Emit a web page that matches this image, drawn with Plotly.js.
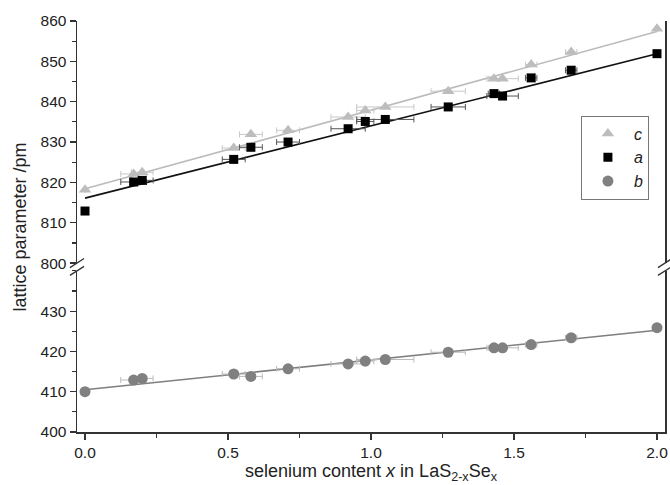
<!DOCTYPE html>
<html>
<head>
<meta charset="utf-8">
<script src="https://cdn.plot.ly/plotly-3.0.1.min.js"></script>
<style>html,body{margin:0;padding:0;background:#fff;}#chart{width:670px;height:485px;}</style>
</head>
<body>
<div id="chart"></div>
<script>
// selenium content x
const xSe = [0, 0.17, 0.20, 0.52, 0.58, 0.71, 0.92, 0.98, 1.05, 1.27, 1.43, 1.46, 1.56, 1.70, 2.0];
// horizontal error of x
const xErr = [0, 0.045, 0.038, 0.04, 0.04, 0.04, 0.06, 0.03, 0.1, 0.06, 0.02, 0.055, 0.02, 0.02, 0];
// lattice parameters /pm
const cVals = [818.2, 822.1, 822.5, 828.5, 831.9, 832.9, 836.2, 837.8, 838.7, 842.6, 845.7, 845.7, 849.2, 852.3, 858.1];
const aVals = [812.9, 820.1, 820.5, 825.7, 828.7, 830.0, 833.3, 835.1, 835.6, 838.7, 842.0, 841.4, 845.9, 847.8, 851.9];
const bVals = [410.0, 412.9, 413.3, 414.4, 413.8, 415.7, 416.9, 417.6, 418.0, 419.8, 420.9, 420.9, 421.7, 423.4, 425.9];
// linear fit lines (end points)
const fitX = [0, 2.0];
const fitC = [818.4, 857.4];
const fitA = [816.1, 851.9];
const fitB = [410.5, 425.25];
// tick labels
const xTicks = [0, 0.5, 1.0, 1.5, 2.0];
const xTickText = ['0.0', '0.5', '1.0', '1.5', '2.0'];
const yLowTicks = [400, 410, 420, 430];
const yHighTicks = [800, 810, 820, 830, 840, 850, 860];

const cCol = '#bdbdbd', aCol = '#000000', bCol = '#808080';

const traces = [
  {x: fitX, y: fitC, yaxis: 'y2', mode: 'lines', line: {color: '#bbbbbb', width: 1.6}, showlegend: false, hoverinfo: 'skip'},
  {x: fitX, y: fitA, yaxis: 'y2', mode: 'lines', line: {color: '#111111', width: 1.6}, showlegend: false, hoverinfo: 'skip'},
  {x: fitX, y: fitB, yaxis: 'y', mode: 'lines', line: {color: '#7f7f7f', width: 1.6}, showlegend: false, hoverinfo: 'skip'},
  {x: xSe, y: cVals, yaxis: 'y2', mode: 'markers', name: '<i>c</i>',
   marker: {symbol: 'triangle-up', size: 11, color: cCol},
   error_x: {type: 'data', array: xErr, visible: true, color: '#c8c8c8', thickness: 1, width: 3}},
  {x: xSe, y: aVals, yaxis: 'y2', mode: 'markers', name: '<i>a</i>',
   marker: {symbol: 'square', size: 9, color: aCol},
   error_x: {type: 'data', array: xErr, visible: true, color: '#555555', thickness: 1, width: 3}},
  {x: xSe, y: bVals, yaxis: 'y', mode: 'markers', name: '<i>b</i>',
   marker: {symbol: 'circle', size: 11, color: bCol},
   error_x: {type: 'data', array: xErr, visible: true, color: '#bbbbbb', thickness: 1, width: 3}}
];

const axisFont = {family: 'Liberation Sans, Arial, sans-serif', size: 15.5, color: '#222'};
const lineCol = '#333333';

const layout = {
  width: 670, height: 485,
  margin: {l: 77, r: 5, t: 21, b: 53},
  paper_bgcolor: '#fff', plot_bgcolor: '#fff',
  font: {family: 'Liberation Sans, Arial, sans-serif', color: '#222'},
  xaxis: {
    range: [-0.028, 2.028], anchor: 'y', showgrid: false, zeroline: false,
    showline: true, linecolor: lineCol, linewidth: 1.5,
    tickvals: xTicks, ticktext: xTickText, ticks: 'outside', ticklen: 6, tickwidth: 1.2, tickcolor: lineCol,
    minor: {dtick: 0.25, tick0: 0, ticks: 'outside', ticklen: 4, tickwidth: 1.2, tickcolor: lineCol},
    tickfont: axisFont,
    title: {text: 'selenium content <i>x</i> in LaS<sub>2-x</sub>Se<sub>x</sub>', font: {size: 18, color: '#222'}, standoff: 4}
  },
  xaxis2: {
    range: [-0.028, 2.028], anchor: 'y2', overlaying: 'x', side: 'top', showgrid: false, zeroline: false,
    showline: true, linecolor: lineCol, linewidth: 1.5, ticks: '', showticklabels: false
  },
  yaxis: {
    domain: [0, 0.392], range: [400, 440], anchor: 'x', showgrid: false, zeroline: false,
    showline: true, mirror: true, linecolor: lineCol, linewidth: 1.5,
    tickvals: yLowTicks, ticks: 'outside', ticklen: 6, tickwidth: 1.2, tickcolor: lineCol,
    minor: {dtick: 5, tick0: 400, ticks: 'outside', ticklen: 4, tickwidth: 1.2, tickcolor: lineCol},
    tickfont: axisFont
  },
  yaxis2: {
    domain: [0.411, 1], range: [800, 860], anchor: 'x', showgrid: false, zeroline: false,
    showline: true, mirror: true, linecolor: lineCol, linewidth: 1.5,
    tickvals: yHighTicks, ticks: 'outside', ticklen: 6, tickwidth: 1.2, tickcolor: lineCol,
    minor: {dtick: 5, tick0: 800, ticks: 'outside', ticklen: 4, tickwidth: 1.2, tickcolor: lineCol},
    tickfont: axisFont
  },
  legend: {
    x: 0.857, y: 0.77, xanchor: 'left', yanchor: 'top',
    bgcolor: '#fff', bordercolor: '#777', borderwidth: 1,
    font: {family: 'Liberation Sans, Arial, sans-serif', size: 16, color: '#222'},
    itemwidth: 42, tracegroupgap: 0
  },
  annotations: [{
    text: 'lattice parameter /pm', textangle: -90, xref: 'paper', yref: 'paper',
    x: -0.097, y: 0.5, xanchor: 'center', yanchor: 'middle', showarrow: false,
    font: {size: 18, color: '#222'}
  }],
  shapes: [
    {type: 'line', xref: 'paper', yref: 'paper', x0: -0.012, x1: 0.012, y0: 0.400, y1: 0.422, line: {color: lineCol, width: 1.3}},
    {type: 'line', xref: 'paper', yref: 'paper', x0: -0.012, x1: 0.012, y0: 0.381, y1: 0.403, line: {color: lineCol, width: 1.3}},
    {type: 'line', xref: 'paper', yref: 'paper', x0: 0.988, x1: 1.012, y0: 0.400, y1: 0.422, line: {color: lineCol, width: 1.3}},
    {type: 'line', xref: 'paper', yref: 'paper', x0: 0.988, x1: 1.012, y0: 0.381, y1: 0.403, line: {color: lineCol, width: 1.3}}
  ]
};

Plotly.newPlot('chart', traces, layout, {displayModeBar: false, staticPlot: true});
</script>
</body>
</html>
